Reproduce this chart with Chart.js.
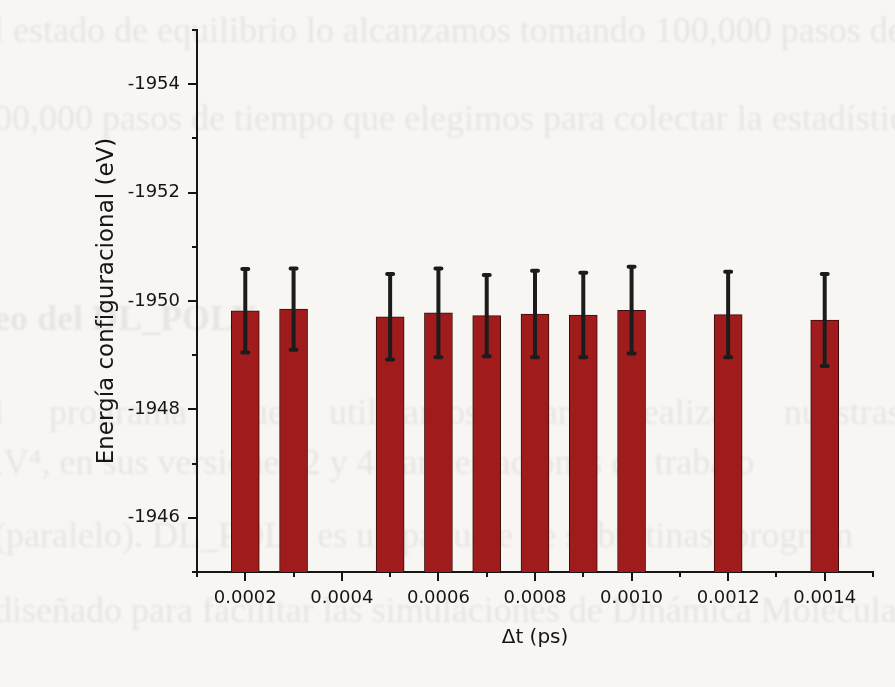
<!DOCTYPE html>
<html lang="es">
<head>
<meta charset="utf-8">
<title>Energía configuracional vs Δt</title>
<script src="https://cdn.jsdelivr.net/npm/chart.js@4.4.1/dist/chart.umd.min.js"></script>
<style>
    html, body { margin: 0; padding: 0; background: #f7f6f2; }
    #wrap { width: 895px; height: 687px; }
</style>
</head>
<body>
<div id="wrap"><canvas id="energyChart" width="895" height="687"></canvas></div>
<script>
// time steps (ps) and mean configurational energy (eV) with its spread
const timeSteps = [0.0002, 0.0003, 0.0005, 0.0006, 0.0007, 0.0008, 0.0009, 0.0010, 0.0012, 0.0014];
const energies = [-1949.82, -1949.85, -1949.71, -1949.78, -1949.73, -1949.76, -1949.74, -1949.83, -1949.75, -1949.65];
const errors = [0.77, 0.75, 0.79, 0.82, 0.75, 0.80, 0.78, 0.80, 0.79, 0.85];

const yMin = -1955, yMax = -1945, yStep = 1;
const xMin = 0.0001, xMax = 0.0015, xStep = 0.0001;

// faint page text showing through from the printed sheet
const pageLines = [
    { text: 'l estado de equilibrio lo alcanzamos tomando 100,000 pasos de', y: 42 },
    { text: '00,000 pasos de tiempo que elegimos para colectar la estadística', y: 130 },
    { text: 'eo del DL_POLY', y: 330, bold: true },
    { text: 'l     programa     que     utilizamos     para     realizar     nuestras     simula', y: 424 },
    { text: ',V⁴, en sus versiones 2 y 4 para estaciones de trabajo', y: 474 },
    { text: '(paralelo). DL_POLY es un paquete de subrutinas, program', y: 547 },
    { text: 'diseñado para facilitar las simulaciones de Dinámica Molecular', y: 622 }
];

const ink = '#151515';
const tickFont = { family: 'DejaVu Sans', size: 18 };

const pageBackground = {
    id: 'pageBackground',
    beforeDraw(chart) {
        const ctx = chart.ctx;
        ctx.save();
        ctx.fillStyle = '#f7f6f2';
        ctx.fillRect(0, 0, chart.width, chart.height);
        ctx.filter = 'blur(1px)';
        ctx.fillStyle = 'rgba(60, 60, 60, 0.085)';
        ctx.textBaseline = 'alphabetic';
        pageLines.forEach(l => {
            ctx.font = (l.bold ? 'bold ' : '') + '36px "Liberation Serif"';
            ctx.fillText(l.text, -6, l.y);
        });
        ctx.restore();
    }
};

// error bars plus major/minor tick marks on both axes
const errorBars = {
    id: 'errorBars',
    afterDatasetsDraw(chart) {
        const ctx = chart.ctx;
        const x = chart.scales.x, y = chart.scales.y;
        ctx.save();
        ctx.strokeStyle = '#1c1c1c';
        ctx.lineWidth = 4;
        ctx.lineCap = 'round';
        timeSteps.forEach((t, i) => {
            const px = x.getPixelForValue(t);
            const top = y.getPixelForValue(energies[i] - errors[i]);
            const bot = y.getPixelForValue(energies[i] + errors[i]);
            ctx.beginPath();
            ctx.moveTo(px, top);
            ctx.lineTo(px, bot);
            ctx.moveTo(px - 3, top);
            ctx.lineTo(px + 3, top);
            ctx.moveTo(px - 3, bot);
            ctx.lineTo(px + 3, bot);
            ctx.stroke();
        });
        ctx.restore();
    },
    afterDraw(chart) {
        const ctx = chart.ctx;
        const x = chart.scales.x, y = chart.scales.y;
        const area = chart.chartArea;
        ctx.save();
        ctx.strokeStyle = ink;
        ctx.lineWidth = 2;
        ctx.beginPath();
        y.ticks.forEach(t => {
            const py = Math.round(y.getPixelForValue(t.value));
            const len = t.label ? 9 : 5;
            ctx.moveTo(area.left, py);
            ctx.lineTo(area.left - len, py);
        });
        x.ticks.forEach(t => {
            const px = Math.round(x.getPixelForValue(t.value));
            const len = t.label ? 9 : 5;
            ctx.moveTo(px, area.bottom);
            ctx.lineTo(px, area.bottom + len);
        });
        ctx.stroke();
        ctx.restore();
    }
};

new Chart(document.getElementById('energyChart'), {
    type: 'bar',
    data: {
        datasets: [{
            label: 'Energía configuracional',
            data: timeSteps.map((t, i) => ({ x: t, y: energies[i] })),
            backgroundColor: '#a01b1b',
            borderColor: '#3a0c0c',
            borderWidth: 1,
            barThickness: 28
        }]
    },
    options: {
        responsive: false,
        animation: false,
        layout: { padding: { left: 89, right: 22, top: 30, bottom: 33 } },
        plugins: {
            legend: { display: false },
            tooltip: { enabled: false }
        },
        scales: {
            x: {
                type: 'linear',
                min: xMin,
                max: xMax,
                offset: false,
                grid: { display: false, drawTicks: false, offset: false },
                border: { display: true, color: ink, width: 2 },
                ticks: {
                    stepSize: xStep,
                    autoSkip: false,
                    maxRotation: 0,
                    padding: 16,
                    color: ink,
                    font: tickFont,
                    callback: v => Math.round(v / xStep) % 2 === 0 ? v.toFixed(4) : ''
                },
                title: {
                    display: true,
                    text: 'Δt (ps)',
                    color: ink,
                    font: { family: 'DejaVu Sans', size: 20 }
                },
                afterFit: s => { s.height = 82; }
            },
            y: {
                type: 'linear',
                reverse: true,
                min: yMin,
                max: yMax,
                beginAtZero: false,
                grid: { display: false, drawTicks: false },
                border: { display: true, color: ink, width: 2 },
                ticks: {
                    stepSize: yStep,
                    autoSkip: false,
                    padding: 17,
                    color: ink,
                    font: tickFont,
                    callback: v => Math.round(v) % 2 === 0 ? String(v) : ''
                },
                title: {
                    display: true,
                    text: 'Energía configuracional (eV)',
                    color: ink,
                    font: { family: 'DejaVu Sans', size: 23 }
                },
                afterFit: s => { s.width = 108; }
            }
        }
    },
    plugins: [pageBackground, errorBars]
});
</script>
</body>
</html>
